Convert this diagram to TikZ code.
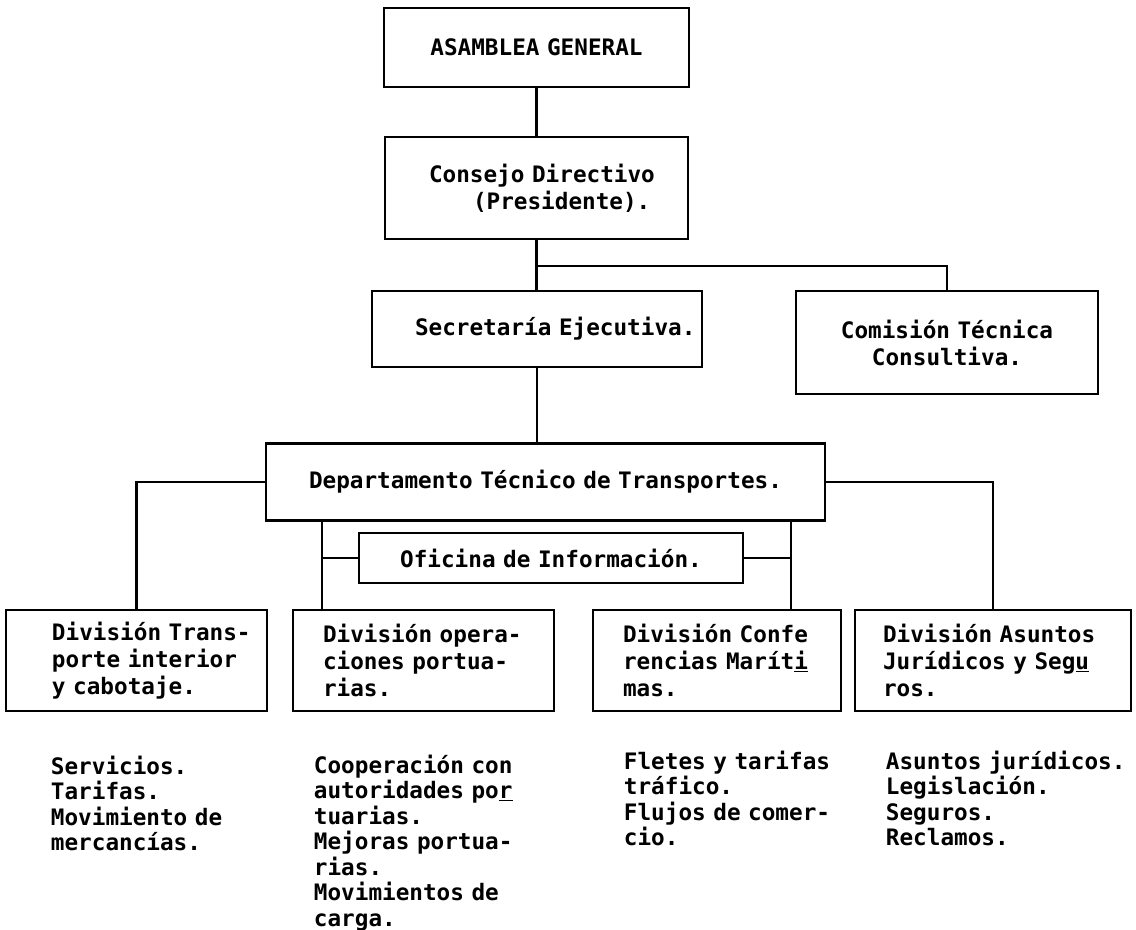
\documentclass[tikz,border=0pt]{standalone}
\usepackage{fontspec}
\usetikzlibrary{positioning,calc}
\newfontfamily\orgfont{DejaVu Sans Mono}
\newcommand\tipo[1]{\orgfont\bfseries\fontsize{17}{#1}\selectfont\spaceskip=\fontcharwd\font`M\relax}
\tikzset{
	unidad/.style={draw, line width=2pt, inner xsep=0pt, inner ysep=0pt, align=center},
	sangria/.style={align=left, execute at begin node={\leftskip=#1\relax}},
	lista/.style={inner sep=0pt, align=left, anchor=base west, text width=200pt, font=\tipo{19.1pt}},
	enlace/.style={line width=1.7pt}
}
\begin{document}
\begin{tikzpicture}[x=0.75pt,y=-0.75pt,font=\tipo{20.25pt}]
	\useasboundingbox (0,0) rectangle (1136,930);
	\node[unidad, text width=228.75pt, minimum height=59.25pt] (asamblea) at (536.5,47.5) {ASAMBLEA GENERAL};
	\node[unidad, sangria=33pt, text width=227.25pt, minimum height=76.5pt] (consejo) at (536.5,188) {Consejo Directivo\\\hspace*{33pt}(Presidente).};
	\node[unidad, sangria=32.25pt, text width=247.5pt, minimum height=57pt] (secretaria) at (537,329) {Secretaría Ejecutiva.};
	\node[unidad, text width=226.5pt, minimum height=77.25pt] (comision) at (947,342.5) {Comisión Técnica\\Consultiva.};
	\node[unidad, text width=419.25pt, minimum height=57.75pt] (depto) at (545.5,482) {Departamento Técnico de Transportes.};
	\node[unidad, text width=288pt, minimum height=37.5pt] (oficina) at (551,558) {Oficina de Información.};
	\node[unidad, sangria=34.5pt, text width=195.75pt, minimum height=75.75pt] (d1) at (136.5,660.5) {División Trans-\\porte interior\\y cabotaje.};
	\node[unidad, sangria=22.5pt, text width=195.75pt, minimum height=75.75pt] (d2) at (423.5,660.5) {División opera-\\ciones portua-\\rias.};
	\node[unidad, sangria=22.5pt, text width=186pt, minimum height=75.75pt] (d3) at (717,660.5) {División Confe\\rencias Marít\underline{i}\\mas.};
	\node[unidad, sangria=21pt, text width=207pt, minimum height=75.75pt] (d4) at (993,660.5) {División Asuntos\\Jurídicos y Seg\underline{u}\\ros.};
	\node[lista] (l1) at ($(d1.south west)+(46,62)$) {Servicios.\\Tarifas.\\Movimiento de\\mercancías.};
	\node[lista] (l2) at ($(d2.south west)+(22,61)$) {Cooperación con\\autoridades po\underline{r}\\tuarias.\\Mejoras portua-\\rias.\\Movimientos de\\carga.};
	\node[lista] (l3) at ($(d3.south west)+(32,57)$) {Fletes y tarifas\\tráfico.\\Flujos de comer-\\cio.};
	\node[lista] (l4) at ($(d4.south west)+(32,57)$) {Asuntos jurídicos.\\Legislación.\\Seguros.\\Reclamos.};
	\coordinate (junta) at ($(consejo.south)+(0,26)$);
	\coordinate (izq) at ($(depto.south west)+(57,0)$);
	\coordinate (der) at ($(depto.south east)+(-35,0)$);
	\draw[enlace] (asamblea) -- (consejo);
	\draw[enlace] (consejo.south) -- (consejo.south |- secretaria.north);
	\draw[enlace] (junta) -| (comision);
	\draw[enlace] (secretaria.south) -- (secretaria.south |- depto.north);
	\draw[enlace] (depto) -| (d1);
	\draw[enlace] (depto) -| (d4);
	\draw[enlace] (izq) -- (izq |- d2.north);
	\draw[enlace] (der) -- (der |- d3.north);
	\draw[enlace] (oficina.west) -- (oficina.west -| izq);
	\draw[enlace] (oficina.east) -- (oficina.east -| der);
\end{tikzpicture}
\end{document}
